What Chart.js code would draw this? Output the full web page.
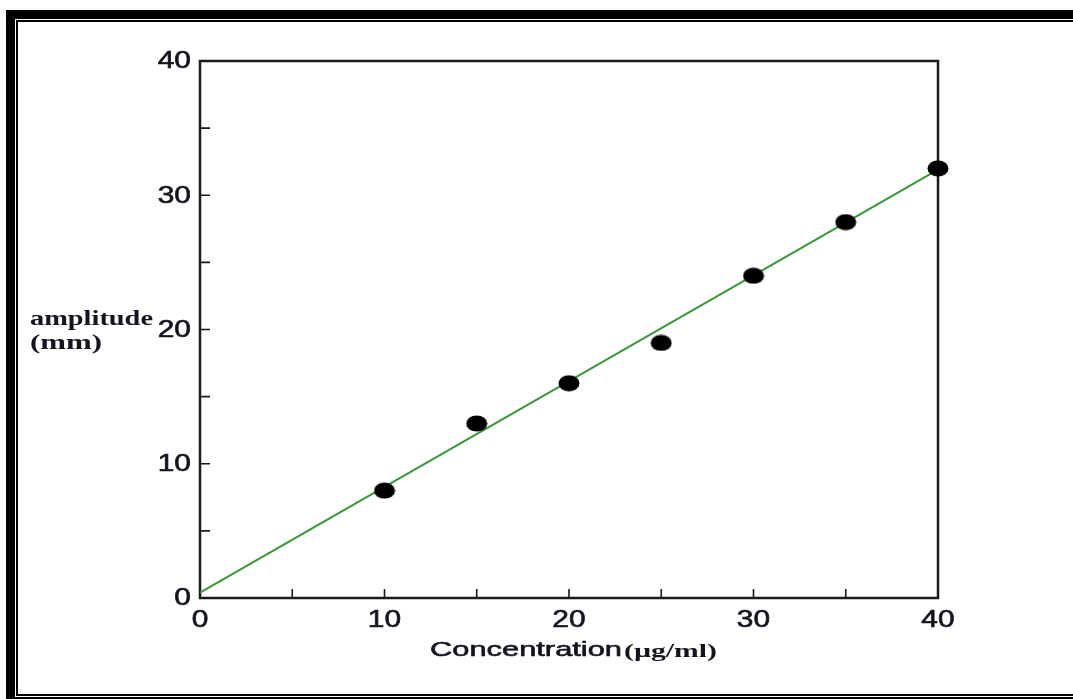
<!DOCTYPE html>
<html>
<head>
<meta charset="utf-8">
<script src="https://cdn.jsdelivr.net/npm/chart.js@4/dist/chart.umd.min.js"></script>
<style>
  html, body { margin: 0; padding: 0; background: #fff; }
  #wrap { position: relative; width: 1073px; height: 699px; overflow: hidden; }
  canvas { position: absolute; left: 0; top: 0; }
  .rule { position: absolute; background: #000; }
</style>
</head>
<body>
<div id="wrap">
  <canvas id="chart" width="1073" height="699"></canvas>
  <!-- double page frame -->
  <div class="rule" style="left:6px;top:10px;width:1067px;height:9px"></div>
  <div class="rule" style="left:16px;top:20px;width:1057px;height:2px"></div>
  <div class="rule" style="left:6px;top:10px;width:9px;height:689px"></div>
  <div class="rule" style="left:16px;top:20px;width:2px;height:676px"></div>
  <div class="rule" style="left:16px;top:694px;width:1057px;height:2px"></div>
  <div class="rule" style="left:6px;top:697px;width:1067px;height:2px"></div>
</div>
<script>
// Calibration data: peak amplitude against concentration
const concentration = [10, 15, 20, 25, 30, 35, 40];
const amplitude = [8, 13, 16, 19, 24, 28, 32];

// End points of the fitted calibration line
const fitConcentration = [0, 40];
const fitAmplitude = [0.4, 31.9];

// Axis tick labels (majors every 10, minor marks every 5)
const xTickLabels = ['0', '10', '20', '30', '40'];
const yTickLabels = ['0', '10', '20', '30', '40'];
const tickMarks = [0, 5, 10, 15, 20, 25, 30, 35, 40];

const INK = '#141420';
const SANS = '"Liberation Sans", Arial, sans-serif';
const SERIF = '"Liberation Serif", "DejaVu Serif", serif';

// Elliptical marker used for the measured points
function ellipseMarker(w, h) {
  const c = document.createElement('canvas');
  c.width = w; c.height = h;
  const g = c.getContext('2d');
  g.fillStyle = '#000';
  g.beginPath();
  g.ellipse(w / 2, h / 2, w / 2 - 0.5, h / 2 - 0.5, 0, 0, Math.PI * 2);
  g.fill();
  return c;
}

// Text drawn with a horizontal stretch (wide lettering)
function wideText(ctx, str, font, x, y, opts) {
  ctx.save();
  ctx.font = font;
  ctx.fillStyle = INK;
  ctx.textBaseline = opts.baseline || 'alphabetic';
  const natural = ctx.measureText(str).width;
  const sx = opts.width ? opts.width / natural : (opts.stretch || 1);
  const w = natural * sx;
  let left = x;
  if (opts.align === 'center') left = x - w / 2;
  else if (opts.align === 'right') left = x - w;
  ctx.translate(left, y);
  ctx.scale(sx, 1);
  ctx.textAlign = 'left';
  ctx.fillText(str, 0, 0);
  if (opts.weight) {
    ctx.lineWidth = opts.weight;
    ctx.strokeStyle = INK;
    ctx.strokeText(str, 0, 0);
  }
  ctx.restore();
}

const framePlugin = {
  id: 'plotFrame',
  beforeDatasetsDraw(chart) {
    const { ctx, chartArea: a, scales } = chart;
    const xs = scales.x, ys = scales.y;
    ctx.save();
    // plot box
    ctx.strokeStyle = '#1a1a1a';
    ctx.lineWidth = 2.5;
    ctx.strokeRect(a.left, a.top, a.right - a.left, a.bottom - a.top);
    // inward tick marks on the left and bottom axes
    ctx.lineWidth = 1.6;
    ctx.beginPath();
    tickMarks.forEach(v => {
      const px = xs.getPixelForValue(v);
      ctx.moveTo(px, a.bottom);
      ctx.lineTo(px, a.bottom - 9);
      const py = ys.getPixelForValue(v);
      ctx.moveTo(a.left, py);
      ctx.lineTo(a.left + 10, py);
    });
    ctx.stroke();
    ctx.restore();
  },
  afterDraw(chart) {
    const { ctx, chartArea: a, scales } = chart;
    const xs = scales.x, ys = scales.y;
    const tickFont = '23px ' + SANS;
    yTickLabels.forEach(t => {
      wideText(ctx, t, tickFont, a.left - 9, ys.getPixelForValue(Number(t)) + 1,
        { align: 'right', baseline: 'middle', stretch: 1.3, weight: 0.6 });
    });
    xTickLabels.forEach(t => {
      wideText(ctx, t, tickFont, xs.getPixelForValue(Number(t)), a.bottom + 23,
        { align: 'center', baseline: 'middle', stretch: 1.3, weight: 0.6 });
    });
    // y axis title
    wideText(ctx, 'amplitude', 'bold 20px ' + SERIF, 30, 325, { width: 123 });
    wideText(ctx, '(mm)', 'bold 20px ' + SERIF, 30, 349, { width: 72 });
    // x axis title
    wideText(ctx, 'Concentration', '21px ' + SANS, 430, 656, { width: 192, weight: 0.6 });
    wideText(ctx, '(\u00b5g/ml)', 'bold 19px ' + SERIF, 624, 657, { width: 93 });
  }
};

new Chart(document.getElementById('chart'), {
  type: 'scatter',
  data: {
    datasets: [
      {
        label: 'measured',
        data: concentration.map((c, i) => ({ x: c, y: amplitude[i] })),
        pointStyle: ellipseMarker(22, 17),
        pointRadius: 8,
        showLine: false,
        clip: false
      },
      {
        label: 'fit',
        data: fitConcentration.map((c, i) => ({ x: c, y: fitAmplitude[i] })),
        showLine: true,
        borderColor: 'rgb(58,150,58)',
        borderWidth: 2,
        pointRadius: 0,
        clip: false
      }
    ]
  },
  options: {
    responsive: false,
    devicePixelRatio: 1,
    animation: false,
    layout: { padding: { left: 200, top: 61, right: 135, bottom: 101 } },
    plugins: { legend: { display: false }, tooltip: { enabled: false } },
    scales: {
      x: { type: 'linear', min: 0, max: 40, display: false },
      y: { type: 'linear', min: 0, max: 40, display: false }
    }
  },
  plugins: [framePlugin]
});
</script>
</body>
</html>
